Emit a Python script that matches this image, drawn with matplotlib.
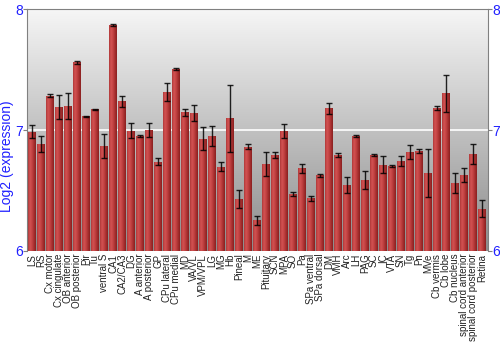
import matplotlib
matplotlib.use("Agg")
import matplotlib.pyplot as plt
import numpy as np
from matplotlib.colors import LinearSegmentedColormap


regions = [
    "LS", "RS", "Cx motor", "Cx cingulate", "OB anterior", "OB posterior",
    "Pir", "Tu", "ventral S", "CA1", "CA2/CA3", "DG", "A anterior",
    "A posterior", "GP", "CPu lateral", "CPu medial", "MD", "VA/VL",
    "VPM/VPL", "LG", "MG", "Hb", "Pineal", "M", "ME", "Pituitary", "SCN",
    "MPA", "SO", "Pa", "SPa ventral", "SPa dorsal", "DM", "VMH", "Arc", "LH",
    "PAG", "SC", "IC", "VTA", "SN", "Tg", "Pn", "MVe", "Cb vermis", "Cb lobe",
    "Cb nucleus", "spinal cord anterior", "spinal cord posterior", "Retina",
]

expression = [
    6.986, 6.882, 7.284, 7.193, 7.198, 7.559,
    7.113, 7.171, 6.868, 7.870, 7.237, 6.992, 6.948,
    7.000, 6.736, 7.314, 7.504, 7.146, 7.140,
    6.926, 6.950, 6.697, 7.099, 6.427, 6.862, 6.253, 6.722, 6.793,
    6.992, 6.471, 6.683, 6.435, 6.625, 7.179, 6.796, 6.545, 6.950,
    6.587, 6.793, 6.713, 6.702, 6.746, 6.816, 6.826, 6.642, 7.184, 7.303,
    6.562, 6.628, 6.804, 6.350,
]

error = [
    0.055, 0.065, 0.010, 0.099, 0.107, 0.015,
    0.005, 0.005, 0.100, 0.010, 0.044, 0.062, 0.008,
    0.058, 0.029, 0.073, 0.010, 0.029, 0.069,
    0.095, 0.081, 0.039, 0.277, 0.074, 0.022, 0.040, 0.100, 0.028,
    0.056, 0.015, 0.040, 0.020, 0.012, 0.047, 0.017, 0.065, 0.011,
    0.074, 0.005, 0.069, 0.005, 0.040, 0.058, 0.014, 0.198, 0.015, 0.152,
    0.083, 0.058, 0.084, 0.070,
]

y_min = 6
y_max = 8

blue = "#2020ff"

fig = plt.figure(figsize=(5, 3.5), dpi=100)
ax = fig.add_axes([0.054, 0.283, 0.922, 0.691])

x = np.arange(len(regions))
bar_width = 0.88

# Gray vertical gradient for the background
bg = np.linspace(0, 1, 256).reshape(-1, 1)
bg_cmap = LinearSegmentedColormap.from_list("bg", ["#f6f6f6", "#8c8c8c"])
ax.imshow(bg, cmap=bg_cmap, aspect="auto", extent=[0, 1, 0, 1],
          transform=ax.transAxes, zorder=0)

ax.axhline(7, color="white", linewidth=1.2, zorder=1)

# Red horizontal gradient inside each bar
bar_cmap = LinearSegmentedColormap.from_list(
    "bar", ["#b03838", "#d25252", "#c44444", "#a83030", "#8a2020"]
)
bar_grad = np.linspace(0, 1, 64).reshape(1, -1)

bars = ax.bar(x, np.array(expression) - y_min, bottom=y_min, width=bar_width,
              color="#b83c3c", zorder=2)

for bar in bars:
    x0 = bar.get_x()
    w = bar.get_width()
    img = ax.imshow(bar_grad, cmap=bar_cmap, aspect="auto",
                    extent=[x0, x0 + w, y_min, bar.get_y() + bar.get_height()],
                    zorder=2.5)
    img.set_clip_path(bar)

ax.errorbar(x, expression, yerr=error, fmt="none", ecolor="black",
            elinewidth=1, capsize=2, capthick=1, zorder=3, alpha=0.85)

ax.set_xlim(-0.556, len(regions) - 1 + 0.667)
ax.set_ylim(y_min, y_max)

ax.set_xticks(x)
ax.set_xticklabels(regions, rotation=90, fontsize=7, family="Liberation Sans",
                   color="#222222")
ax.tick_params(axis="x", length=0, pad=2)

ax.set_yticks([6, 7, 8])
ax.tick_params(axis="y", colors="#808080", labelcolor=blue, labelsize=10,
               length=3, direction="out", right=True, labelright=True, pad=0)
for lbl in ax.get_yticklabels():
    lbl.set_family("Liberation Sans")

ax.set_ylabel("Log2 (expression)", color=blue, fontsize=10,
              family="Liberation Sans", va="center")
ax.yaxis.set_label_coords(-0.043, 0.39)

for side in ["left", "right", "top"]:
    ax.spines[side].set_color("#808080")
ax.spines["bottom"].set_visible(False)

fig.savefig("out.png", dpi=100)
plt.close(fig)
